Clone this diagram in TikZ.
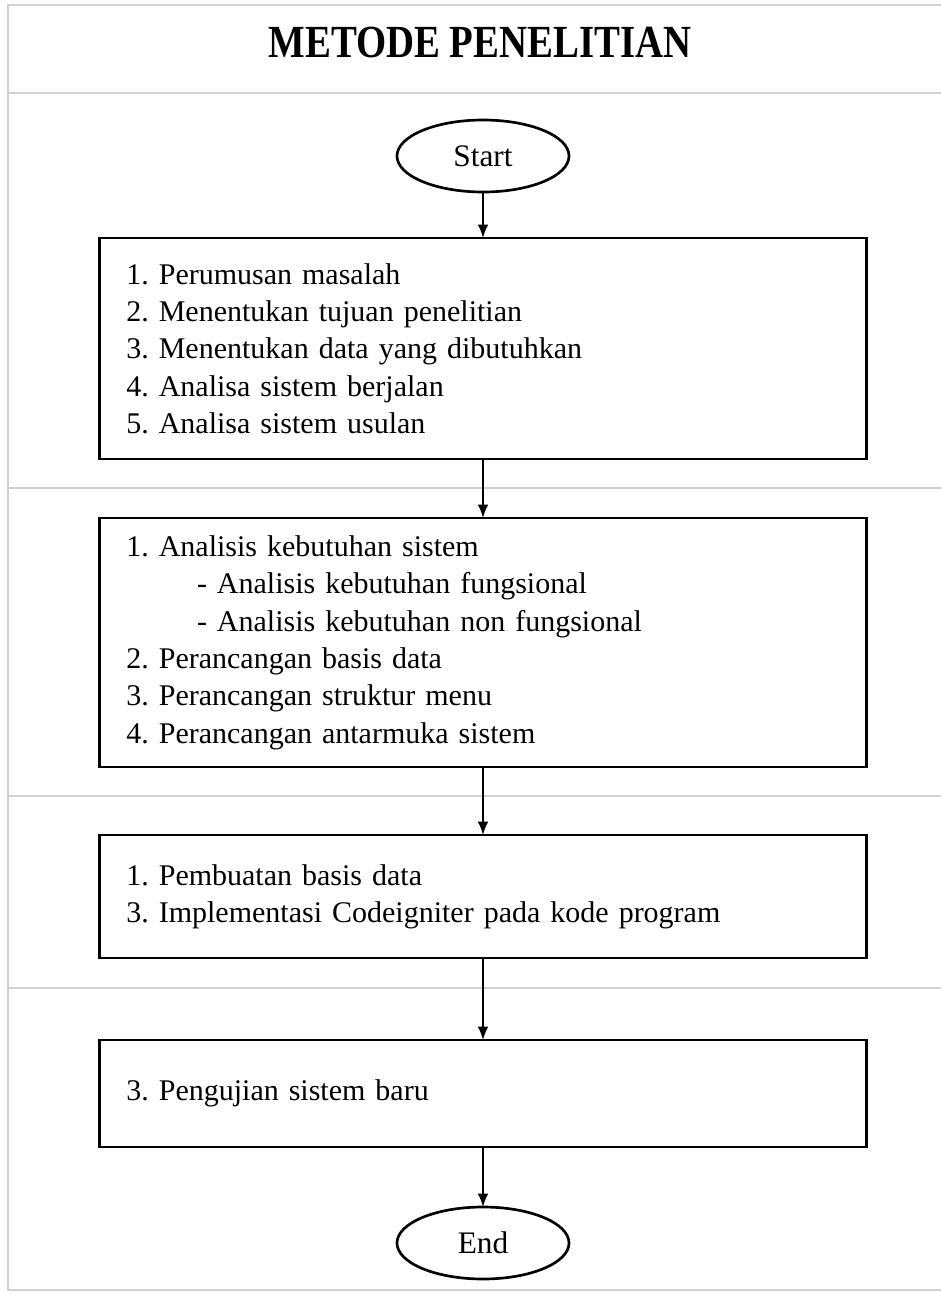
\documentclass[tikz,border=0pt]{standalone}
\usepackage{fontspec}
\setmainfont{Liberation Serif}
\usetikzlibrary{arrows, arrows.meta, positioning, shapes.geometric}

\begin{document}
\frenchspacing
\begin{tikzpicture}[x=0.75pt,y=-0.75pt,>={Latex[length=10pt,width=8pt]}]
  \tikzstyle{stage}=[draw,line width=2pt,outer sep=0pt,text width=535pt,align=left,inner xsep=20pt,font=\fontsize{22.5}{28}\selectfont]
  \tikzstyle{terminal}=[draw,ellipse,line width=2pt,outer sep=0pt,minimum width=129pt,minimum height=54pt,font=\fontsize{23.5}{26}\selectfont]
  \tikzstyle{lane}=[draw=black!18,line width=1.5pt]

  \useasboundingbox (0,0) rectangle (941,1297);
  % frame and lanes
  \draw[lane] (950,5) -- (8,5) -- (8,1290) -- (950,1290);
  \draw[lane] (8,93) -- (950,93);
  \foreach \y in {488,796,988}
    \draw[lane] (8,\y) -- (950,\y);

  \node[font=\bfseries\fontsize{30}{30}\selectfont,yscale=1.15,xscale=0.97] (title) at (480,42) {METODE PENELITIAN};

  \node[terminal]                         (start) at (483,156)        {Start};
  \node[stage,minimum height=165.75pt]    (s1) [below=34.5pt of start] {1. Perumusan masalah\\
    2. Menentukan tujuan penelitian\\
    3. Menentukan data yang dibutuhkan\\
    4. Analisa sistem berjalan\\
    5. Analisa sistem usulan};
  \node[stage,minimum height=186.75pt]    (s2) [below=44.25pt of s1]   {1. Analisis kebutuhan sistem\\
    \hspace*{53pt}- Analisis kebutuhan fungsional\\
    \hspace*{53pt}- Analisis kebutuhan non fungsional\\
    2. Perancangan basis data\\
    3. Perancangan struktur menu\\
    4. Perancangan antarmuka sistem};
  \node[stage,minimum height=92.25pt]     (s3) [below=51pt of s2]      {1. Pembuatan basis data\\
    3. Implementasi Codeigniter pada kode program};
  \node[stage,minimum height=80.25pt]     (s4) [below=61.5pt of s3]    {3. Pengujian sistem baru};
  \node[terminal]                         (end) [below=45pt of s4]     {End};

  \path[->,line width=1.3pt]
  (start) edge (s1)
  (s1)    edge (s2)
  (s2)    edge (s3)
  (s3)    edge (s4)
  (s4)    edge (end)
  ;
\end{tikzpicture}
\end{document}
